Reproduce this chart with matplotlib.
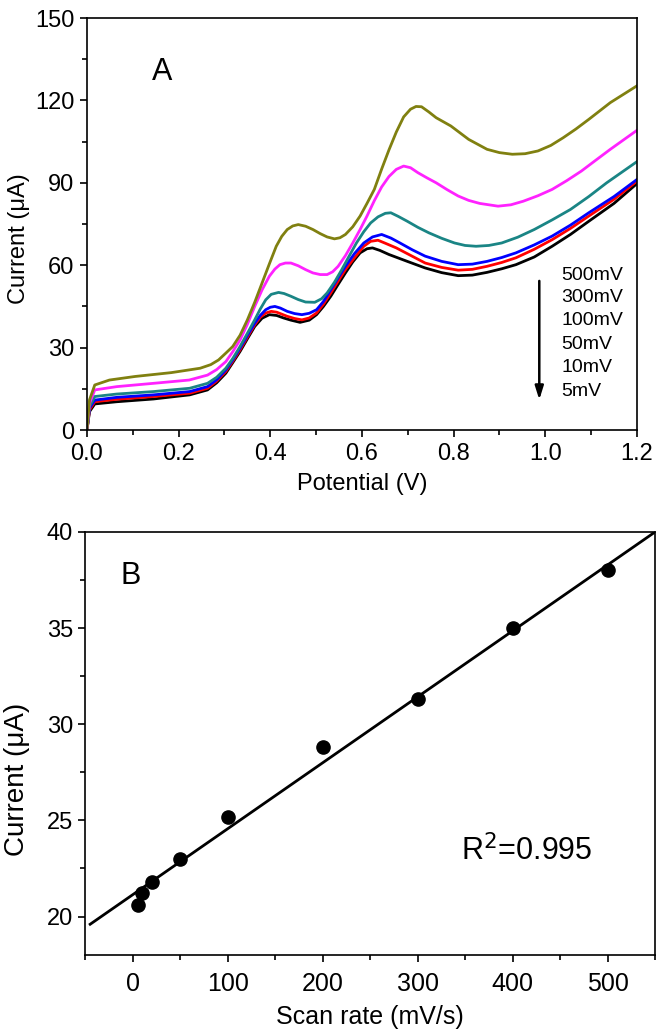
import matplotlib
matplotlib.use("Agg")
from matplotlib import pyplot as plt
from matplotlib.ticker import MultipleLocator, FormatStrFormatter
import numpy as np

# --- panel A: LSV curves at different scan rates ---
v_5 = [0, 0.0055, 0.017, 0.065, 0.145, 0.224, 0.263, 0.283, 0.303, 0.318, 0.334, 0.350, 0.366, 0.382, 0.398, 0.414, 0.429, 0.445, 0.465, 0.485, 0.501, 0.516, 0.532, 0.548, 0.564, 0.580, 0.596, 0.611, 0.623, 0.639, 0.659, 0.699, 0.738, 0.774, 0.810, 0.841, 0.873, 0.905, 0.936, 0.976, 1.015, 1.055, 1.095, 1.150, 1.2]
i_5 = [0, 6.7, 9.5, 10.3, 11.3, 12.8, 14.6, 17.2, 20.7, 24.5, 28.6, 33.2, 37.7, 40.7, 42.0, 41.7, 40.8, 40.0, 39.2, 40.0, 42.0, 45.0, 48.7, 53.0, 57.2, 61.2, 64.5, 66.0, 66.3, 65.4, 63.9, 61.4, 59.0, 57.3, 56.2, 56.4, 57.4, 58.7, 60.2, 63.0, 66.9, 71.2, 76.0, 82.5, 89.7]

v_10 = [0, 0.0055, 0.017, 0.065, 0.145, 0.224, 0.263, 0.283, 0.303, 0.318, 0.334, 0.350, 0.366, 0.378, 0.390, 0.402, 0.414, 0.437, 0.453, 0.469, 0.485, 0.501, 0.516, 0.532, 0.548, 0.564, 0.584, 0.604, 0.619, 0.635, 0.651, 0.675, 0.706, 0.738, 0.774, 0.810, 0.841, 0.873, 0.905, 0.936, 0.976, 1.015, 1.055, 1.095, 1.150, 1.2]
i_10 = [0, 7.3, 10.3, 11.2, 12.2, 13.4, 15.2, 17.8, 21.3, 25.0, 29.2, 33.8, 38.3, 41.0, 42.6, 43.2, 42.9, 41.4, 40.6, 40.1, 40.8, 42.6, 45.8, 49.9, 54.2, 58.4, 62.8, 66.9, 68.7, 69.1, 68.0, 66.3, 63.6, 60.8, 59.2, 58.2, 58.5, 59.6, 61.0, 62.7, 65.8, 69.3, 73.4, 77.9, 84.0, 90.6]

v_50 = [0, 0.0055, 0.017, 0.065, 0.145, 0.224, 0.263, 0.283, 0.303, 0.318, 0.334, 0.350, 0.366, 0.378, 0.390, 0.400, 0.410, 0.422, 0.437, 0.453, 0.469, 0.485, 0.501, 0.516, 0.532, 0.548, 0.564, 0.584, 0.604, 0.623, 0.643, 0.663, 0.683, 0.710, 0.738, 0.774, 0.810, 0.841, 0.873, 0.905, 0.936, 0.976, 1.015, 1.055, 1.095, 1.150, 1.2]
i_50 = [0, 7.9, 10.9, 11.9, 12.8, 14.0, 15.8, 18.3, 21.9, 25.5, 29.8, 34.4, 38.9, 41.7, 43.8, 44.7, 45.0, 44.4, 43.2, 42.4, 42.0, 42.5, 43.8, 46.8, 51.1, 55.4, 59.6, 64.3, 68.1, 70.3, 71.2, 69.9, 68.1, 65.6, 63.3, 61.4, 60.2, 60.4, 61.4, 62.8, 64.5, 67.4, 70.6, 74.6, 79.1, 85.0, 91.2]

v_100 = [0, 0.0055, 0.017, 0.065, 0.145, 0.224, 0.263, 0.283, 0.303, 0.318, 0.334, 0.350, 0.366, 0.378, 0.390, 0.402, 0.418, 0.430, 0.445, 0.461, 0.477, 0.497, 0.512, 0.524, 0.540, 0.556, 0.572, 0.588, 0.604, 0.619, 0.635, 0.651, 0.663, 0.679, 0.699, 0.722, 0.746, 0.774, 0.802, 0.825, 0.849, 0.877, 0.905, 0.940, 0.976, 1.015, 1.055, 1.095, 1.134, 1.2]
i_100 = [0, 8.5, 12.2, 13.1, 14.0, 15.2, 17.0, 19.2, 22.5, 26.0, 30.4, 35.2, 40.1, 44.0, 47.4, 49.4, 50.1, 49.7, 48.7, 47.5, 46.6, 46.5, 47.8, 49.9, 53.8, 58.4, 63.3, 68.1, 72.2, 75.4, 77.6, 78.9, 79.1, 77.8, 76.0, 73.8, 71.8, 69.8, 68.1, 67.2, 66.9, 67.2, 68.1, 70.2, 73.0, 76.5, 80.3, 85.0, 90.0, 97.7]

v_300 = [0, 0.0055, 0.017, 0.065, 0.145, 0.223, 0.263, 0.283, 0.303, 0.318, 0.334, 0.350, 0.366, 0.382, 0.398, 0.410, 0.421, 0.433, 0.445, 0.461, 0.477, 0.493, 0.509, 0.524, 0.536, 0.548, 0.564, 0.580, 0.596, 0.611, 0.627, 0.643, 0.659, 0.675, 0.691, 0.706, 0.722, 0.742, 0.762, 0.786, 0.810, 0.833, 0.857, 0.897, 0.925, 0.952, 0.984, 1.015, 1.047, 1.079, 1.110, 1.142, 1.2]
i_300 = [0, 9.7, 14.6, 15.8, 17.0, 18.2, 20.0, 22.0, 24.9, 28.5, 32.8, 38.5, 45.0, 51.0, 56.0, 58.6, 60.2, 60.8, 60.8, 59.8, 58.4, 57.2, 56.6, 56.6, 57.6, 59.6, 63.5, 68.1, 73.0, 77.9, 83.5, 88.5, 92.3, 94.9, 96.1, 95.5, 93.7, 91.8, 90.0, 87.5, 85.2, 83.6, 82.5, 81.5, 82.0, 83.3, 85.3, 87.6, 90.8, 94.3, 98.2, 102.2, 109.1]

v_500 = [0, 0.0055, 0.017, 0.049, 0.105, 0.184, 0.247, 0.270, 0.287, 0.303, 0.318, 0.334, 0.350, 0.366, 0.382, 0.398, 0.413, 0.425, 0.437, 0.449, 0.461, 0.477, 0.493, 0.509, 0.524, 0.540, 0.552, 0.564, 0.580, 0.596, 0.611, 0.627, 0.643, 0.659, 0.675, 0.691, 0.706, 0.718, 0.730, 0.746, 0.762, 0.794, 0.833, 0.873, 0.900, 0.928, 0.956, 0.984, 1.012, 1.039, 1.067, 1.095, 1.142, 1.2]
i_500 = [0, 11.0, 16.4, 18.2, 19.5, 20.9, 22.5, 23.8, 25.5, 28.0, 30.4, 34.5, 40.1, 46.5, 53.5, 60.5, 66.9, 70.5, 73.0, 74.3, 74.8, 74.2, 73.0, 71.5, 70.3, 69.6, 70.0, 71.2, 74.0, 77.9, 82.5, 87.6, 95.0, 102.0, 108.5, 114.0, 116.8, 117.8, 117.7, 115.8, 113.7, 110.7, 105.8, 102.2, 101.0, 100.4, 100.6, 101.6, 103.6, 106.4, 109.6, 113.1, 119.2, 125.3]

rate_labels = ["500mV", "300mV", "100mV", "50mV", "10mV", "5mV"]

# --- panel B: peak current vs scan rate ---
scan_rate = [5, 10, 20, 50, 100, 200, 300, 400, 500]
peak_current = [20.6, 21.2, 21.8, 23.0, 25.2, 28.8, 31.3, 35.0, 38.0]
fit_x = [-45, 550]
fit_y = [19.6, 40.0]

plt.rcParams["font.family"] = ["Liberation Sans", "DejaVu Sans"]

fig = plt.figure(figsize=(6.57, 10.30), dpi=100)

# panel A
ax1 = fig.add_axes([0.1324, 0.5825, 0.837, 0.4])
curves = [(v_5, i_5, "black"), (v_10, i_10, "red"), (v_50, i_50, "blue"),
          (v_100, i_100, "#1a8585"), (v_300, i_300, "#ff22ff"), (v_500, i_500, "#808010")]
for v, i, c in curves:
    ax1.plot(v, i, color=c, lw=2.0, solid_joinstyle="round")
ax1.set_xlim(0, 1.2)
ax1.set_ylim(0, 150)
ax1.xaxis.set_major_locator(MultipleLocator(0.2))
ax1.xaxis.set_minor_locator(MultipleLocator(0.1))
ax1.yaxis.set_major_locator(MultipleLocator(30))
ax1.yaxis.set_minor_locator(MultipleLocator(15))
ax1.xaxis.set_major_formatter(FormatStrFormatter("%.1f"))
ax1.set_xlabel("Potential (V)", fontsize=17)
ax1.set_ylabel("Current (\u03bcA)", fontsize=17)
ax1.xaxis.set_label_coords(0.5, -0.105)
ax1.yaxis.set_label_coords(-0.103, 0.464)
ax1.text(0.164, 130.5, "A", fontsize=22, ha="center", va="center")
label_y = [56.2, 48.3, 40.0, 31.3, 22.8, 13.9]
for lab, y in zip(rate_labels, label_y):
    ax1.text(1.035, y, lab, fontsize=14, ha="left", va="center")
ax1.annotate("", xy=(0.987, 10.0), xytext=(0.987, 55.3),
             arrowprops=dict(arrowstyle="-|>,head_width=0.25,head_length=0.8", color="black", lw=1.8))

# panel B
ax2 = fig.add_axes([0.130, 0.0728, 0.867, 0.4107])
ax2.plot(fit_x, fit_y, color="black", lw=2.0)
ax2.plot(scan_rate, peak_current, "o", color="black", markersize=9.5)
ax2.set_xlim(-50, 550)
ax2.set_ylim(18, 40)
ax2.xaxis.set_major_locator(MultipleLocator(100))
ax2.xaxis.set_minor_locator(MultipleLocator(50))
ax2.yaxis.set_major_locator(MultipleLocator(5))
ax2.yaxis.set_minor_locator(MultipleLocator(2.5))
ax2.set_xlabel("Scan rate (mV/s)", fontsize=18)
ax2.set_ylabel("Current (\u03bcA)", fontsize=20)
ax2.xaxis.set_label_coords(0.5, -0.118)
ax2.yaxis.set_label_coords(-0.097, 0.416)
ax2.text(-2.7, 37.7, "B", fontsize=22, ha="center", va="center")
ax2.text(346, 23.4, "R$^2$=0.995", fontsize=22, ha="left", va="center")

for ax in (ax1, ax2):
    for s in ax.spines.values():
        s.set_linewidth(1.2)
    ax.tick_params(which="major", direction="out", length=5, width=1.2, pad=4)
    ax.tick_params(which="minor", direction="out", length=3.5, width=1.2)
ax1.tick_params(axis="both", labelsize=17)
ax2.tick_params(axis="x", labelsize=18, pad=7)
ax2.tick_params(axis="y", labelsize=17)

plt.savefig("out.png", dpi=100)
